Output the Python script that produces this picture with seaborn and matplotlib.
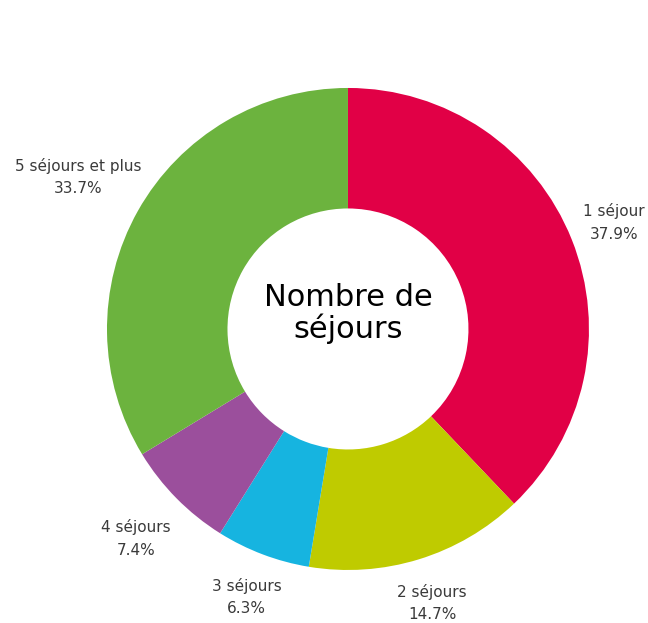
import matplotlib
matplotlib.use("Agg")
import matplotlib.pyplot as plt
import seaborn as sns

categories = ["1 séjour", "2 séjours", "3 séjours", "4 séjours", "5 séjours et plus"]
shares = [37.9, 14.7, 6.3, 7.4, 33.7]
colors = ["#E10046", "#BFCB00", "#16B4E0", "#9B4F9C", "#6CB33E"]
center_text = "Nombre de\nséjours"

sns.set_theme(style="white")
plt.rcParams['font.family'] = ['DejaVu Sans']

fig = plt.figure(figsize=(6.48, 6.23), dpi=100)
ax = fig.add_axes([0, 0, 1, 1])

labels = [f"{c}\n{v:.1f}%" for c, v in zip(categories, shares)]
wedges, texts = ax.pie(shares, colors=colors, startangle=90, counterclock=False,
                       labels=labels, labeldistance=1.19,
                       wedgeprops=dict(width=0.5, linewidth=0),
                       textprops=dict(fontsize=11, color="#3a3a3a", linespacing=1.6))
for t in texts:
    t.set_ha("center")
    t.set_va("center")
# the two left labels sit a bit further out
texts[3].set_position((texts[3].get_position()[0] * 1.04, texts[3].get_position()[1] * 1.04))
texts[4].set_position((texts[4].get_position()[0] * 1.08, texts[4].get_position()[1] * 1.08))

ax.text(0, 0.065, center_text, ha="center", va="center", fontsize=22,
        color="black", linespacing=1.08)

ax.set_xlim(-1.444, 1.245)
ax.set_ylim(-1.22, 1.365)
ax.set_aspect("auto")
ax.axis("off")

fig.savefig("out.png", dpi=100, facecolor="white")
